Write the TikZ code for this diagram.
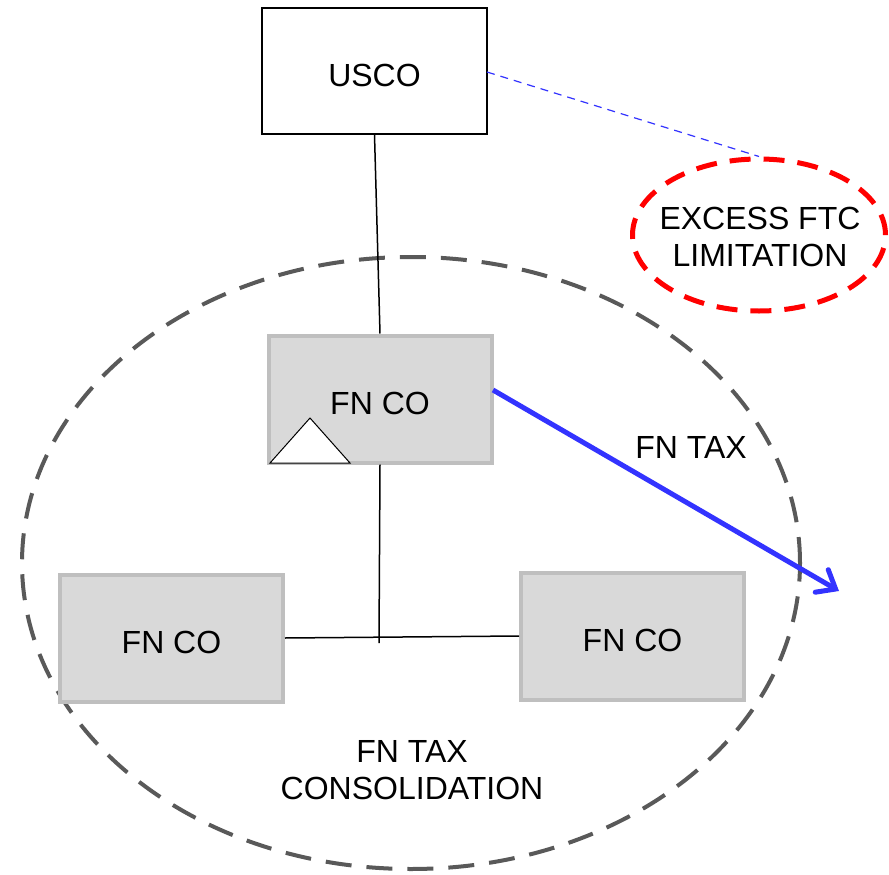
\documentclass[tikz,border=0pt]{standalone}
\usepackage{fontspec}
\setmainfont{Liberation Sans}
\usetikzlibrary{shapes.geometric,arrows.meta}
\definecolor{boxfill}{HTML}{D9D9D9}
\definecolor{boxline}{HTML}{BFBFBF}
\definecolor{groupline}{HTML}{595959}
\definecolor{taxblue}{HTML}{3333FF}
\begin{document}
\begin{tikzpicture}[x=1pt,y=-1pt,
  lbl/.style={font=\fontsize{32}{37}\selectfont, align=center, inner sep=0pt},
  entity/.style={draw=black, line width=1.3pt, fill=white, minimum width=225pt, minimum height=126pt, lbl},
  fnco/.style={draw=boxline, line width=4pt, fill=boxfill, minimum width=223pt, minimum height=127pt, lbl},
  link/.style={draw=black, line width=1.5pt}]
\useasboundingbox (0,0) rectangle (889,875);

% tax consolidation group boundary
\node[draw=groupline, line width=4pt, dash pattern=on 26pt off 15pt,
      ellipse, minimum width=778pt, minimum height=612pt, inner sep=0pt] (grp) at (411,563) {};

% excess FTC limitation
\node[draw=red, line width=5pt, dash pattern=on 21pt off 13pt,
      ellipse, minimum width=253pt, minimum height=152pt, inner sep=0pt] (ftc) at (759,235) {};
\node[lbl] (ftclbl) at (760,237) {EXCESS FTC\\LIMITATION};

% entities
\node[entity] (usco) at (374.5,71) {};
\node[lbl] (uscolbl) at (374.5,75) {USCO};
\node[fnco] (fn1) at (380,399) {};
\node[lbl] (fn1lbl) at (380,403) {FN CO};
\node[fnco] (fn2) at (171.5,638) {};
\node[lbl] (fn2lbl) at (171.5,642) {FN CO};
\node[fnco] (fn3) at (632.5,636) {};
\node[lbl] (fn3lbl) at (632.5,640) {FN CO};

% triangle marker in the corner of the top subsidiary
\coordinate (t1) at (270,463);
\coordinate (t2) at (350,463);
\coordinate (t3) at (310,418);
\draw[black, line width=1pt, fill=white] (t1) -- (t3) -- (t2) -- cycle;

% ownership lines
\coordinate (j) at (379,643);
\draw[link] (usco.south) -- (fn1.north);
\draw[link] (fn1.south) -- (j);
\draw[link] (fn2.east) -- (fn3.west);

% dashed connector to the limitation bubble
\coordinate (us) at (487,72);
\draw[taxblue, line width=1.2pt, dash pattern=on 8pt off 6pt] (us) -- (ftc.north);

% foreign tax flow
\coordinate (fnout) at (493,390);
\coordinate (tip) at (839,591);
\draw[taxblue, line width=5pt, -{Straight Barb[length=16pt,width=26pt,line cap=round]}] (fnout) -- (tip);
\node[lbl] (fntax) at (691,447) {FN TAX};

% group label
\node[lbl] (grplbl) at (412,770) {FN TAX\\CONSOLIDATION};
\end{tikzpicture}
\end{document}
